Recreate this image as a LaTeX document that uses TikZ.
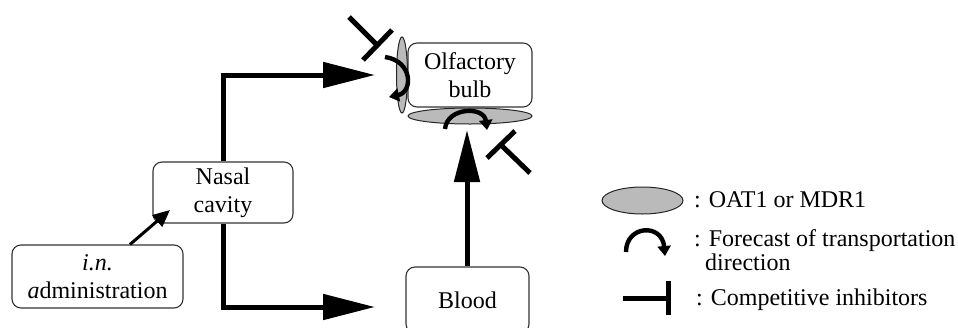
\documentclass[tikz,border=0pt]{standalone}
\usepackage{fontspec}
\setmainfont{Liberation Serif}
\usetikzlibrary{arrows.meta,shapes.geometric}
\begin{document}
\begin{tikzpicture}[x=1pt,y=-1pt,
  font=\fontsize{24}{28}\selectfont,
  box/.style={draw=black!80, line width=1.1pt, rounded corners=9pt, fill=white, align=center, inner sep=0pt},
  transporter/.style={draw=black!85, line width=1pt, fill=black!27},
  route/.style={line width=5pt, -{Triangle[length=52pt,width=25pt]}},
  turn/.style={line width=4.4pt, -{Triangle[length=10pt,width=13pt]}},
  blocker/.style={line width=5pt},
  legendtext/.style={anchor=base west, inner sep=0pt}]
\clip (0,0) rectangle (958,327);
\fill[white] (0,0) rectangle (958,327);

% compartments
\node[box, minimum width=124pt, minimum height=64pt] (bulb) at (470,75) {Olfactory\\bulb};
\node[box, minimum width=140pt, minimum height=61pt] (nasal) at (223,192.5) {Nasal\\cavity};
\node[box, minimum width=171pt, minimum height=63pt] (admin) at (97.5,276.5) {\textit{i.n.}\\\textit{a}dministration};
\node[box, minimum width=123pt, minimum height=66pt] (blood) at (467.5,300) {Blood};

% transporters on the bulb
\node[transporter, ellipse, minimum width=11pt, minimum height=76pt, inner sep=0pt] (sideT) at (402,75) {};
\node[transporter, ellipse, minimum width=124pt, minimum height=16pt, inner sep=0pt] (baseT) at (470,116) {};

% delivery routes
\coordinate (inSide) at (375,75);
\coordinate (inBlood) at (375,307);
\coordinate (inBase) at (467,130);
\coordinate (inNasal) at (170,210);
\draw[line width=3pt, -{Triangle[length=17pt,width=15pt]}] ([xshift=32.5pt]admin.north) -- (inNasal);
\draw[route] (nasal.north) |- (inSide);
\draw[route] (nasal.south) |- (inBlood);
\draw[route] (blood.north -| inBase) -- (inBase);

% transport direction across each transporter
\coordinate (sideIn) at (385,57);
\coordinate (sideOut) at (389,97);
\draw[turn] (sideIn) .. controls (413,61) and (413,92) .. (sideOut);
\coordinate (baseIn) at (445,129);
\coordinate (baseOut) at (487,130);
\draw[turn] (baseIn) .. controls (447,107) and (484,106) .. (baseOut);

% competitive inhibitors
\coordinate (blkA) at (377,45);
\draw[blocker] (349,17) -- (blkA);
\draw[blocker] (363,60) -- (392,30);
\coordinate (blkB) at (501,145);
\draw[blocker] (530,173) -- (blkB);
\draw[blocker] (487,158) -- (515,131);

% legend
\node[transporter, ellipse, minimum width=81pt, minimum height=27pt, inner sep=0pt] (keyT) at (642.5,200.5) {};
\node[legendtext] (keyTtxt) at (694,207) {: OAT1 or MDR1};
\coordinate (keyIn) at (626,252);
\coordinate (keyOut) at (665,256);
\draw[turn] (keyIn) .. controls (626,225) and (662,223) .. (keyOut);
\node[legendtext] (keyDtxt) at (694,246) {: Forecast of transportation};
\node[legendtext] (keyDtxt2) at (705,270) {direction};
\coordinate (keyBl) at (623,298);
\coordinate (keyBr) at (668,298);
\draw[blocker] (keyBl) -- (keyBr);
\draw[blocker] (668,281) -- (668,315);
\node[legendtext] (keyBtxt) at (696,305) {: Competitive inhibitors};
\end{tikzpicture}
\end{document}
